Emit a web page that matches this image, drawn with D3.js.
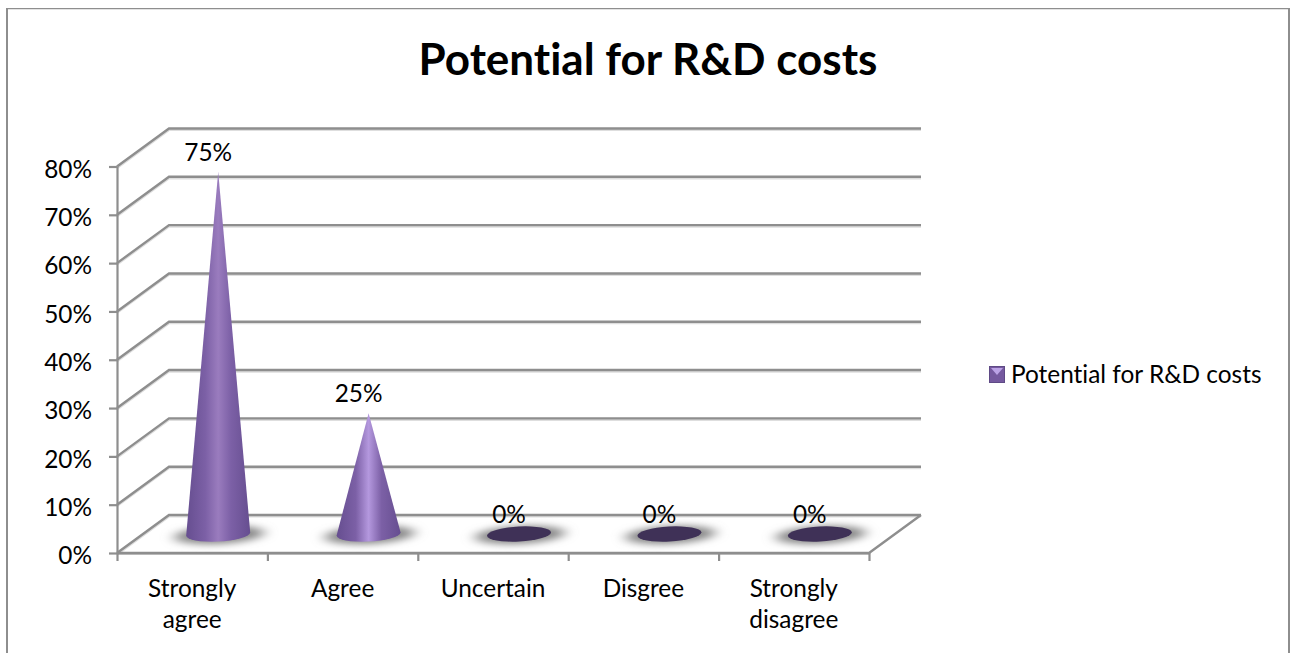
<!DOCTYPE html>
<html>
<head>
<meta charset="utf-8">
<script src="https://cdn.jsdelivr.net/npm/d3@7"></script>
<style>
  html, body { margin: 0; padding: 0; background: #fff; }
  svg { display: block; }
  text { font-family: Lato, "Open Sans", sans-serif; fill: #000; font-variant-ligatures: none; }
</style>
</head>
<body>
<div id="chart"></div>
<script>
const chartTitle = "Potential for R&D costs";
const seriesName = "Potential for R&D costs";
const categories = [["Strongly", "agree"], ["Agree"], ["Uncertain"], ["Disgree"], ["Strongly", "disagree"]];
const values = [75, 25, 0, 0, 0];
const yTicks = [0, 10, 20, 30, 40, 50, 60, 70, 80];

const width = 1295;
const height = 653;
const gridColor = "#8e8e8e";
const labelSize = 24.4;

// front plane of the 3D box, the back wall is this plane shifted by depth
const depth = { x: 52, y: -38 };
const y = d3.scaleLinear().domain([0, 80]).range([553, 166.5]);
const x = d3.scaleLinear().domain([0, categories.length]).range([117, 869]);

const svg = d3.select("#chart").append("svg")
  .attr("width", width)
  .attr("height", height);

const defs = svg.append("defs");

const blur = defs.append("filter").attr("id", "shadowBlur")
  .attr("x", "-30%").attr("y", "-80%").attr("width", "160%").attr("height", "260%");
blur.append("feGaussianBlur").attr("stdDeviation", "7 3.5");

function coneGradient(id, mid) {
  const grad = defs.append("linearGradient").attr("id", id);
  const stops = [[0, "#664e90"], [0.3, "#7c60a6"], [0.5, mid], [0.7, "#7c60a6"], [1, "#664e90"]];
  stops.forEach(s => grad.append("stop").attr("offset", s[0]).attr("stop-color", s[1]));
}
coneGradient("cone0", "#9a7cbe");
coneGradient("cone1", "#b498de");

// chart frame, the bottom edge falls outside the page
const frame = svg.append("g").attr("fill", "none").attr("stroke", gridColor);
frame.append("path").attr("d", "M7,8V653M1289,8V653").attr("stroke-width", 2);
frame.append("path").attr("d", "M6,8.6H1290").attr("stroke-width", 1.4);

svg.append("text")
  .attr("x", 648).attr("y", 75)
  .attr("text-anchor", "middle")
  .attr("font-size", 44).attr("font-weight", 700)
  .text(chartTitle);

function wallPath(d) {
  const x0 = x(0);
  const x1 = x(categories.length);
  return "M" + x0 + "," + y(d) + "L" + (x0 + depth.x) + "," + (y(d) + depth.y) + "H" + (x1 + depth.x);
}

// soft edge under the grid lines
svg.append("g")
  .attr("fill", "none").attr("stroke", "#dedede").attr("stroke-width", 2)
  .attr("transform", "translate(0,1.6)")
  .selectAll("path")
  .data(yTicks)
  .enter()
  .append("path")
  .attr("d", wallPath);

// walls and floor
const grid = svg.append("g")
  .attr("fill", "none").attr("stroke", gridColor).attr("stroke-width", 2.4);

grid.selectAll(".wall")
  .data(yTicks)
  .enter()
  .append("path")
  .attr("class", "wall")
  .attr("d", wallPath);

grid.append("path")
  .attr("d", "M" + x(0) + "," + y(0) + "H" + x(categories.length) +
    "L" + (x(categories.length) + depth.x) + "," + (y(0) + depth.y));

// axes, category labels are drawn on their own below
const yAxis = svg.append("g")
  .attr("transform", "translate(" + x(0) + ",0)")
  .call(d3.axisLeft(y).tickValues(yTicks).tickSize(8).tickPadding(17).tickSizeOuter(0)
    .tickFormat(d => d + "%"));
yAxis.selectAll("path, line").attr("stroke", gridColor).attr("stroke-width", 2.2);
yAxis.selectAll("text")
  .attr("font-size", labelSize)
  .attr("font-family", "Lato")
  .attr("fill", "#000")
  .attr("dy", "0.44em");

const xAxis = svg.append("g")
  .attr("transform", "translate(0," + y(0) + ")")
  .call(d3.axisBottom(x).tickValues(d3.range(categories.length + 1)).tickSize(8).tickSizeOuter(0)
    .tickFormat(""));
xAxis.selectAll("path, line").attr("stroke", gridColor).attr("stroke-width", 2.2);

// category labels sit in the middle of each band
const catLabels = svg.append("g")
  .selectAll("text")
  .data(categories)
  .enter()
  .append("text")
  .attr("text-anchor", "middle")
  .attr("font-size", labelSize)
  .attr("transform", (d, i) => "translate(" + x(i + 0.5) + ",597)");
catLabels.selectAll("tspan")
  .data(d => d)
  .enter()
  .append("tspan")
  .attr("x", 0)
  .attr("dy", (d, i) => i ? 31 : 0)
  .text(d => d);

// marks stand mid way through the depth of the box
const floorY = y(0) + depth.y / 2;
const centerX = i => x(i + 0.5) + depth.x / 2;
const coneHeight = v => y(0) - y(v);
const baseR = 32;

const marks = svg.append("g")
  .selectAll("g")
  .data(values)
  .enter()
  .append("g")
  .attr("transform", (d, i) => "translate(" + centerX(i) + "," + floorY + ")");

marks.append("ellipse")
  .attr("cx", 1).attr("cy", 1)
  .attr("rx", 45).attr("ry", 9)
  .attr("fill", "#868686")
  .attr("transform", "rotate(-3)")
  .attr("filter", "url(#shadowBlur)");

marks.filter(d => d === 0)
  .append("ellipse")
  .attr("rx", baseR).attr("ry", 7.5)
  .attr("fill", "#3f3157")
  .attr("transform", "rotate(-3)");

marks.filter(d => d > 0)
  .append("path")
  .attr("d", d => "M0," + (-coneHeight(d)) +
    "L" + baseR + ",-1.5" +
    "A" + baseR + ",7.5 -3 0 1 " + (-baseR) + ",1.5Z")
  .attr("fill", (d, i) => "url(#cone" + i + ")");

svg.append("g")
  .selectAll("text")
  .data(values)
  .enter()
  .append("text")
  .attr("x", (d, i) => centerX(i) - 10)
  .attr("y", d => floorY - coneHeight(d) - 11)
  .attr("text-anchor", "middle")
  .attr("font-size", labelSize)
  .text(d => d + "%");

// legend
const legend = svg.append("g").attr("transform", "translate(989,366)");
legend.append("rect").attr("width", 16).attr("height", 17).attr("fill", "#5f4a86");
legend.append("rect").attr("x", 1).attr("y", 1).attr("width", 14).attr("height", 15).attr("fill", "#75599f");
legend.append("path").attr("d", "M2,2H14L8,9Z").attr("fill", "#bba2e6");
legend.append("text")
  .attr("x", 22).attr("y", 17)
  .attr("font-size", labelSize)
  .text(seriesName);
</script>
</body>
</html>
